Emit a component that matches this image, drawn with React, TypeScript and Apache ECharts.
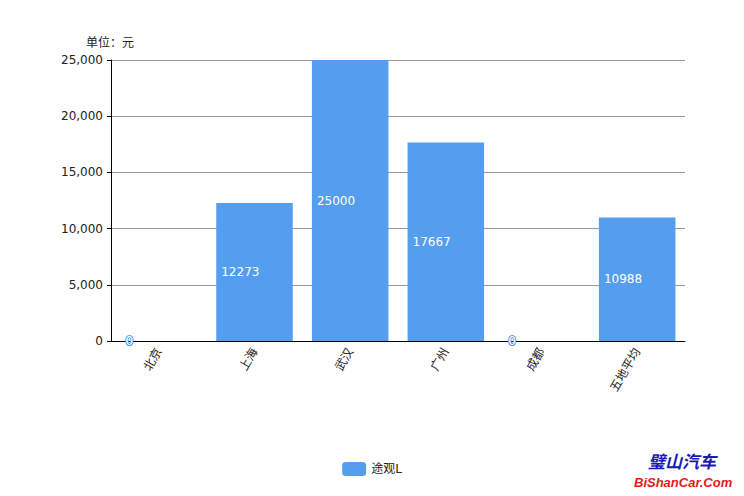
import React, { useEffect, useRef } from "react";
import * as echarts from "echarts";

const categories = ["北京", "上海", "武汉", "广州", "成都", "五地平均"];
const values = [0, 12273, 25000, 17667, 0, 10988];
const seriesName = "途观L";
const unitLabel = "单位：元";

export default function App() {
  const ref = useRef<HTMLDivElement>(null);
  useEffect(() => {
    document.body.style.margin = "0";
    const chart = echarts.init(ref.current!, null, { renderer: "svg" });
    const font = "DejaVu Sans, Noto Sans CJK SC, sans-serif";
    chart.setOption({
      animation: false,
      textStyle: { fontFamily: font },
      title: {
        text: unitLabel,
        left: 81,
        top: 32,
        textStyle: { fontSize: 12, fontWeight: "normal", color: "#222", fontFamily: font },
      },
      grid: { left: 111, right: 59, top: 60, bottom: 155 },
      legend: {
        bottom: 15,
        left: "center",
        itemWidth: 24,
        itemHeight: 14,
        icon: "roundRect",
        textStyle: { fontSize: 12, color: "#222" },
        data: [seriesName],
      },
      xAxis: {
        type: "category",
        data: categories,
        axisLine: { lineStyle: { color: "#000", width: 1 } },
        axisTick: { show: false },
        axisLabel: { rotate: 60, color: "#222", fontSize: 12, interval: 0, margin: 8 },
      },
      yAxis: {
        type: "value",
        min: 0,
        max: 25000,
        interval: 5000,
        axisLine: { show: true, lineStyle: { color: "#000", width: 1 } },
        axisTick: { show: true, length: 4, lineStyle: { color: "#000" } },
        axisLabel: {
          color: "#222",
          fontSize: 12,
          margin: 8,
          formatter: (v: number) => v.toLocaleString("en-US"),
        },
        splitLine: { lineStyle: { color: "#999", width: 1 } },
      },
      series: [
        {
          name: seriesName,
          type: "bar",
          data: values,
          barWidth: "80%",
          itemStyle: { color: "#559eee" },
          label: {
            show: true,
            position: "insideLeft",
            distance: 5,
            color: "#fff",
            fontSize: 12,
            textBorderColor: "#559eee",
            textBorderWidth: 2,
          },
        },
      ],
      graphic: [
        {
          type: "text",
          left: 648,
          top: 452,
          style: {
            text: "璧山汽车",
            fill: "#1a1ab8",
            font: "italic bold 17px 'Noto Sans CJK SC', sans-serif",
          },
        },
        {
          type: "text",
          left: 634,
          top: 476,
          style: {
            text: "BiShanCar.Com",
            fill: "#e81818",
            font: "italic bold 13px 'Liberation Sans', sans-serif",
          },
        },
      ],
    });
    return () => chart.dispose();
  }, []);
  return <div ref={ref} style={{ width: 744, height: 496 }} />;
}
